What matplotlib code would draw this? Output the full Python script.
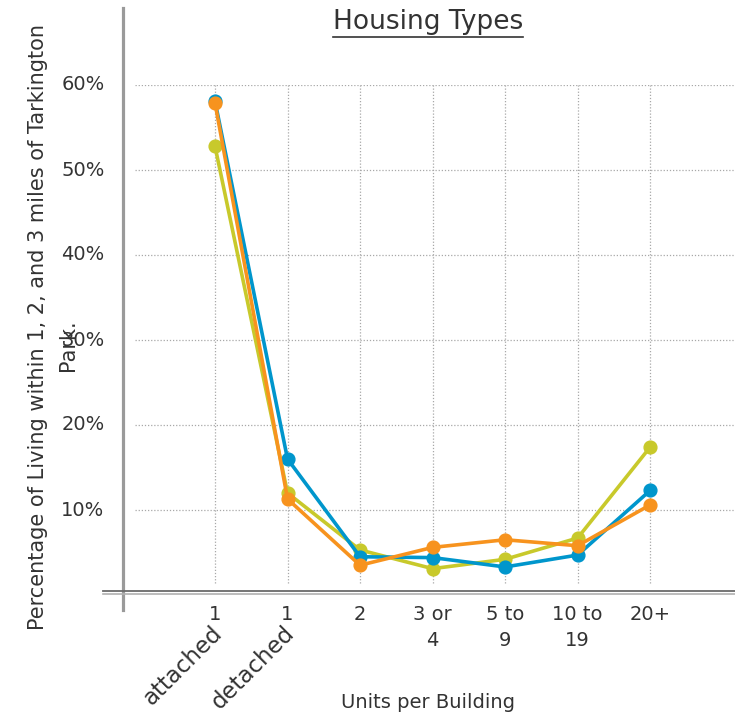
import matplotlib
matplotlib.use("Agg")
import matplotlib.pyplot as plt
from matplotlib.lines import Line2D

# ---- data ----
categories = ["1\nattached", "1\ndetached", "2", "3 or\n4", "5 to\n9", "10 to\n19", "20+"]
tick_main = ["1", "1", "2", "3 or\n4", "5 to\n9", "10 to\n19", "20+"]
tick_rot = ["attached", "detached", "", "", "", "", ""]
within_1_mile = [52.8, 12.0, 5.3, 3.1, 4.2, 6.7, 17.4]   # yellow-green
within_2_miles = [58.1, 16.0, 4.5, 4.4, 3.3, 4.7, 12.3]  # blue
within_3_miles = [57.9, 11.3, 3.5, 5.6, 6.5, 5.8, 10.6]  # orange
y_ticks = [10, 20, 30, 40, 50, 60]
y_tick_labels = ["10%", "20%", "30%", "40%", "50%", "60%"]

title = "Housing Types"
x_label = "Units per Building"
y_label_1 = "Percentage of Living within 1, 2, and 3 miles of Tarkington"
y_label_2 = "Park."

W, H = 735, 714
fig = plt.figure(figsize=(W / 100, H / 100), dpi=100)
plt.rcParams['font.family'] = ['DejaVu Sans']
txt_color = "#333333"

def fx(px):
    return px / W

def fy(py):
    return 1 - py / H

ax = fig.add_axes([fx(135), fy(595), fx(735) - fx(135), fy(85) - fy(595)])
ax.set_xlim(-1.103, 7.17)
ax.set_ylim(0, 60)
for s in ax.spines.values():
    s.set_visible(False)
ax.set_xticks([])
ax.set_yticks([])

x = list(range(len(categories)))

# gridlines
for yv in y_ticks:
    ax.axhline(yv, color="#a8a8a8", lw=0.9, ls=(0, (1, 1.5)), zorder=1)
for xi in x:
    ax.plot([xi, xi], [1.4, 60], color="#a8a8a8", lw=0.9, ls=(0, (1, 1.5)), zorder=1)

lw = 2.6
ms = 9.2
ax.plot(x, within_1_mile, color="#c8c92b", lw=lw, marker="o", ms=ms, zorder=3, clip_on=False)
ax.plot(x, within_2_miles, color="#0096cc", lw=lw, marker="o", ms=ms, zorder=4, clip_on=False)
ax.plot(x, within_3_miles, color="#f7931e", lw=lw, marker="o", ms=ms, zorder=5, clip_on=False)

# axis lines (drawn in figure coords)
fig.add_artist(Line2D([fx(123), fx(123)], [fy(8), fy(610)], color="#9a9a9a", lw=2.3))
fig.add_artist(Line2D([fx(103), fx(735)], [fy(591), fy(591)], color="#6a6a6a", lw=1.3))
fig.add_artist(Line2D([fx(103), fx(735)], [fy(594), fy(594)], color="#b0b0b0", lw=1.2))

# y tick labels
for yv, lab in zip(y_ticks, y_tick_labels):
    ax.annotate(lab, xy=(0, yv), xycoords=("axes fraction", "data"),
                xytext=(-22, 0), textcoords="offset points",
                ha="right", va="center", fontsize=14, color=txt_color)

# x tick labels
for xi, lab, rot in zip(x, tick_main, tick_rot):
    ax.annotate(lab, xy=(xi, 0), xycoords="data", xytext=(0, -7.5),
                textcoords="offset points", ha="center", va="top",
                fontsize=14, color=txt_color, linespacing=1.45)
    if rot:
        ax.annotate(rot, xy=(xi, 0), xycoords="data", xytext=(-3, -19),
                    textcoords="offset points", ha="right", va="top",
                    rotation=45, rotation_mode="anchor",
                    fontsize=16.5, color=txt_color)

# axis labels
fig.text(fx(428), fy(703), x_label, ha="center", va="center", fontsize=14, color=txt_color)
fig.text(fx(38), fy(327), y_label_1, ha="center", va="center", rotation=90,
         fontsize=15, color=txt_color)
fig.text(fx(68), fy(345), y_label_2, ha="center", va="center", rotation=90,
         fontsize=15, color=txt_color)

# title with underline
t = fig.text(fx(428), fy(22), title, ha="center", va="center", fontsize=19, color=txt_color)
fig.canvas.draw()
bb = t.get_window_extent(renderer=fig.canvas.get_renderer())
uy = bb.y0 - 2
fig.add_artist(Line2D([bb.x0 / W, bb.x1 / W], [uy / H, uy / H], color=txt_color, lw=1.2))

fig.savefig("out.png", dpi=100)
